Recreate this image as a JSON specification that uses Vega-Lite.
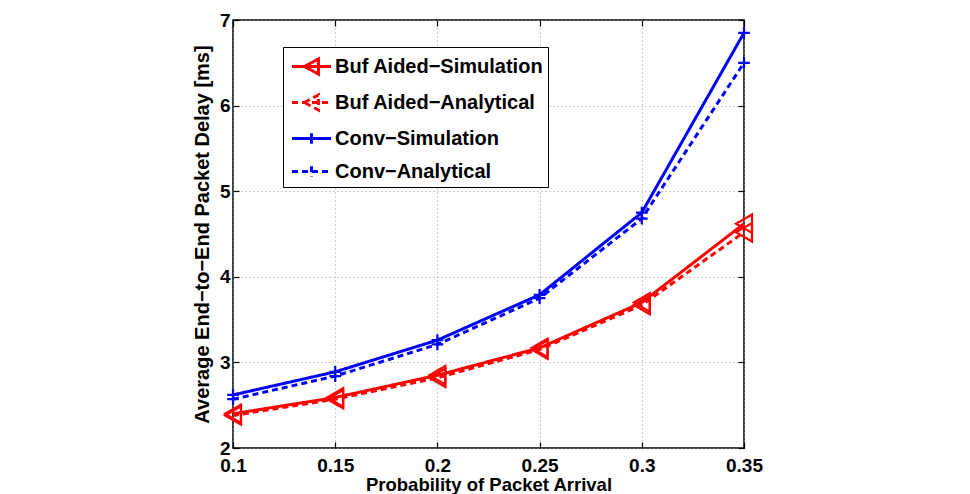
{
  "$schema": "https://vega.github.io/schema/vega-lite/v6.json",
  "autosize": "none",
  "width": 511,
  "height": 428,
  "padding": {"left": 233, "top": 20, "right": 226, "bottom": 46},
  "background": "white",
  "config": {
    "font": "Liberation Sans",
    "view": {"stroke": "black", "strokeWidth": 1.5},
    "axis": {
      "labelFont": "Liberation Sans",
      "labelFontWeight": "bold",
      "labelFontSize": 19,
      "labelColor": "black",
      "titleFont": "Liberation Sans",
      "titleFontWeight": "bold",
      "titleColor": "black",
      "domain": false,
      "tickColor": "black",
      "tickSize": -6,
      "tickWidth": 1.2,
      "gridColor": "#9a9a9a",
      "gridDash": [1, 3],
      "gridWidth": 1,
      "gridOpacity": 1
    }
  },
  "data": {
    "values": [
      {"p": 0.10, "series": "Buf Aided−Simulation", "delay": 2.40},
      {"p": 0.15, "series": "Buf Aided−Simulation", "delay": 2.59},
      {"p": 0.20, "series": "Buf Aided−Simulation", "delay": 2.85},
      {"p": 0.25, "series": "Buf Aided−Simulation", "delay": 3.17},
      {"p": 0.30, "series": "Buf Aided−Simulation", "delay": 3.70},
      {"p": 0.35, "series": "Buf Aided−Simulation", "delay": 4.62},
      {"p": 0.10, "series": "Buf Aided−Analytical", "delay": 2.38},
      {"p": 0.15, "series": "Buf Aided−Analytical", "delay": 2.57},
      {"p": 0.20, "series": "Buf Aided−Analytical", "delay": 2.82},
      {"p": 0.25, "series": "Buf Aided−Analytical", "delay": 3.15},
      {"p": 0.30, "series": "Buf Aided−Analytical", "delay": 3.67},
      {"p": 0.35, "series": "Buf Aided−Analytical", "delay": 4.52},
      {"p": 0.10, "series": "Conv−Simulation", "delay": 2.62},
      {"p": 0.15, "series": "Conv−Simulation", "delay": 2.89},
      {"p": 0.20, "series": "Conv−Simulation", "delay": 3.26},
      {"p": 0.25, "series": "Conv−Simulation", "delay": 3.79},
      {"p": 0.30, "series": "Conv−Simulation", "delay": 4.75},
      {"p": 0.35, "series": "Conv−Simulation", "delay": 6.85},
      {"p": 0.10, "series": "Conv−Analytical", "delay": 2.57},
      {"p": 0.15, "series": "Conv−Analytical", "delay": 2.84},
      {"p": 0.20, "series": "Conv−Analytical", "delay": 3.21},
      {"p": 0.25, "series": "Conv−Analytical", "delay": 3.75},
      {"p": 0.30, "series": "Conv−Analytical", "delay": 4.68},
      {"p": 0.35, "series": "Conv−Analytical", "delay": 6.50}
    ]
  },
  "resolve": {"axis": {"x": "independent", "y": "independent"}},
  "layer": [
    {
      "mark": {"type": "line", "strokeWidth": 3, "clip": false},
      "encoding": {
        "x": {
          "field": "p", "type": "quantitative",
          "scale": {"domain": [0.1, 0.35], "nice": false, "zero": false},
          "axis": {"values": [0.1, 0.15, 0.2, 0.25, 0.3, 0.35], "format": "~g", "title": "Probability of Packet Arrival",
                   "titleFontSize": 18.5, "labelPadding": 14, "titlePadding": 0, "labelFlush": false, "labelOverlap": false}
        },
        "y": {
          "field": "delay", "type": "quantitative",
          "scale": {"domain": [2, 7], "nice": false, "zero": false},
          "axis": {"values": [2, 3, 4, 5, 6, 7], "title": "Average End−to−End Packet Delay [ms]",
                   "titleFontSize": 20, "labelPadding": 9, "titlePadding": 7, "labelFlush": false}
        },
        "color": {
          "field": "series", "type": "nominal",
          "scale": {
            "domain": ["Buf Aided−Simulation", "Buf Aided−Analytical", "Conv−Simulation", "Conv−Analytical"],
            "range": ["#ff0000", "#ff0000", "#0000ff", "#0000ff"]
          },
          "legend": {
            "orient": "none",
            "legendX": 50,
            "legendY": 27,
            "title": null,
            "strokeColor": "black",
            "fillColor": "white",
            "padding": 4,
            "rowPadding": 6,
            "labelFont": "Liberation Sans",
            "labelFontWeight": "bold",
            "labelFontSize": 20,
            "labelColor": "black",
            "labelOffset": 17,
            "labelLimit": 400,
            "labelExpr": "datum.label + '\u00a0\u00a0\u00a0\u00a0\u00a0\u00a0\u00a0\u00a0\u00a0\u00a0'",
            "symbolSize": 784,
            "symbolStrokeWidth": 3,
            "symbolOpacity": 1,
            "symbolFillColor": "transparent"
          }
        },
        "strokeDash": {
          "field": "series", "type": "nominal",
          "scale": {
            "domain": ["Buf Aided−Simulation", "Buf Aided−Analytical", "Conv−Simulation", "Conv−Analytical"],
            "range": [[1, 0], [6, 4], [1, 0], [6, 4]]
          },
          "legend": null
        }
      }
    },
    {
      "mark": {"type": "point", "filled": false, "strokeWidth": 2.2, "opacity": 1, "clip": false},
      "encoding": {
        "x": {
          "field": "p", "type": "quantitative",
          "axis": {"orient": "top", "values": [0.1, 0.15, 0.2, 0.25, 0.3, 0.35], "labels": false, "title": null, "grid": false}
        },
        "y": {
          "field": "delay", "type": "quantitative",
          "axis": {"orient": "right", "values": [2, 3, 4, 5, 6, 7], "labels": false, "title": null, "grid": false}
        },
        "color": {"field": "series", "type": "nominal"},
        "shape": {
          "condition": {"test": "indexof(datum.series, 'Buf') === 0", "value": "triangle-left"},
          "value": "M-1,0L1,0M0,-1L0,1"
        },
        "size": {
          "condition": {"test": "indexof(datum.series, 'Buf') === 0", "value": 340},
          "value": 135
        }
      }
    },
    {
      "mark": {"type": "point", "filled": false, "strokeWidth": 3, "opacity": 0, "clip": false},
      "encoding": {
        "x": {"field": "p", "type": "quantitative", "axis": null},
        "y": {"field": "delay", "type": "quantitative", "axis": null},
        "color": {"field": "series", "type": "nominal"},
        "strokeDash": {"field": "series", "type": "nominal"},
        "shape": {
          "field": "series", "type": "nominal",
          "scale": {
            "domain": ["Buf Aided−Simulation", "Buf Aided−Analytical", "Conv−Simulation", "Conv−Analytical"],
            "range": [
              "M-0.75,0L2.04,0M0.14,0L1.14,-0.54L1.14,0.54Z",
              "M-0.75,0L2.04,0M0.14,0L1.14,-0.54L1.14,0.54Z",
              "M-0.75,0L2.04,0M0.64,-0.38L0.64,0.38",
              "M-0.75,0L2.04,0M0.64,-0.38L0.64,0.38"
            ]
          },
          "legend": null
        }
      }
    }
  ]
}
